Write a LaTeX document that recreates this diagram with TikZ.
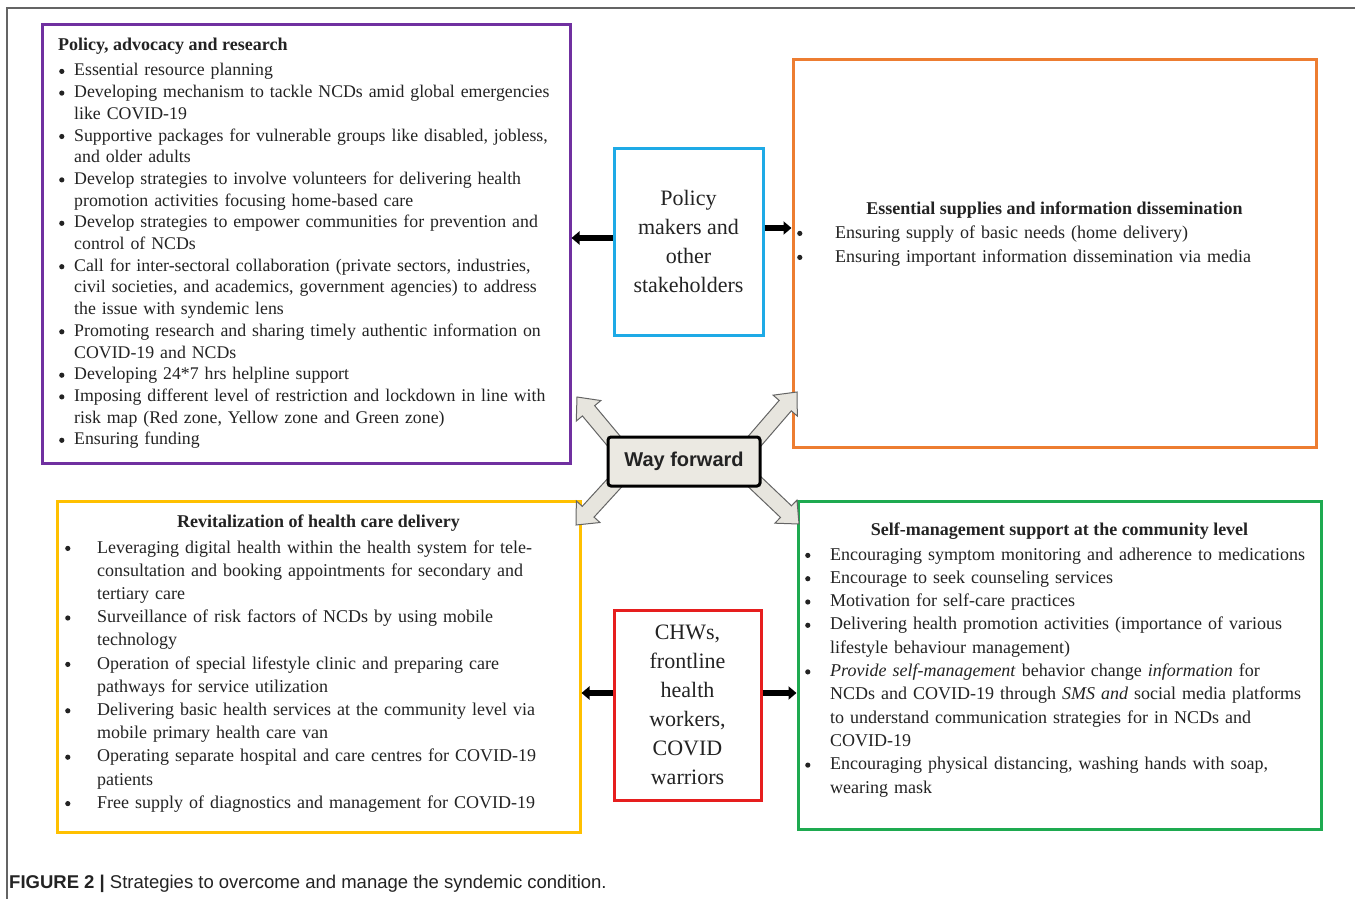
\documentclass[tikz,border=0pt]{standalone}
\usepackage{fontspec}
\setmainfont{Liberation Serif}
\newfontfamily\capfont{Liberation Sans}
\usetikzlibrary{calc,arrows.meta}
\definecolor{cpurple}{RGB}{112,48,160}
\definecolor{cblue}{RGB}{30,170,230}
\definecolor{corange}{RGB}{237,125,49}
\definecolor{cyellow}{RGB}{255,192,0}
\definecolor{cred}{RGB}{230,30,30}
\definecolor{cgreen}{RGB}{30,170,80}
\definecolor{ctext}{RGB}{35,35,35}
\definecolor{wffill}{RGB}{235,233,226}
\definecolor{fatfill}{RGB}{231,229,222}
\definecolor{framegray}{RGB}{100,100,100}
\newcommand\bdot{\raisebox{2pt}{\tikz\fill[ctext] (0,0) circle (2.6pt);}}
\newcommand\bfirst[2]{\noindent\hangindent=#2\hangafter=1\makebox[#2][l]{\hspace{#1}\bdot}}
\newcommand\bitem[2]{\par\bfirst{#1}{#2}}
\newcommand\nl{\newline}
\newcommand\fatarrow[2]{%
  \path ($(#2)!18pt!(#1)$) coordinate (fah);
  \draw[fat] ($(#1)!8pt!90:(#2)$) -- ($(fah)!8pt!-90:(#1)$) -- ($(fah)!16pt!-90:(#1)$) -- (#2)
    -- ($(fah)!16pt!90:(#1)$) -- ($(fah)!8pt!90:(#1)$) -- ($(#1)!8pt!-90:(#2)$) -- cycle;}
\begin{document}
\begin{tikzpicture}[x=1pt,y=-1pt,
  box/.style={draw, line width=3pt, inner sep=0pt, fill=white},
  body/.style={inner sep=0pt, text=ctext, align=left},
  ttl/.style={inner sep=0pt, text=ctext, font=\fontsize{18}{21.7}\selectfont\bfseries},
  actor/.style={box, align=center, text=ctext, font=\fontsize{22}{29}\selectfont},
  blk/.style={line width=5.5pt, -{Triangle[width=13pt,length=8pt]}},
  fat/.style={draw=framegray, line width=1pt, fill=fatfill, line join=miter}
]
\useasboundingbox (0,0) rectangle (1355,899);
\draw[framegray, line width=1.3pt] (7,899) -- (7,8) -- (1355,8);

% frames
\node[box, draw=cpurple, minimum width=528, minimum height=438] (pol) at (306,244) {};
\node[box, draw=corange, minimum width=523, minimum height=387] (ess) at (1054.5,253.5) {};
\node[box, draw=cyellow, minimum width=523, minimum height=331] (rev) at (318.5,666.5) {};
\node[box, draw=cgreen, minimum width=523, minimum height=328] (self) at (1059.5,665) {};

\node[actor, draw=cblue, minimum width=149, minimum height=187] (pm) at (688.5,241.5) {Policy\\makers and\\other\\stakeholders};
\node[actor, draw=cred, minimum width=147, minimum height=190] (chw) at (687.5,705) {CHWs,\\frontline\\health\\workers,\\COVID\\warriors};

% purple content
\node[ttl, anchor=base west] (polt) at (58,51) {Policy, advocacy and research};
\node[body, anchor=base west, text width=505, font=\fontsize{17.8}{21.7}\selectfont] (poll) at (58,76) {%
\bfirst{1pt}{16pt}Essential resource planning
\bitem{1pt}{16pt}Developing mechanism to tackle NCDs amid global emergencies\nl like COVID-19
\bitem{1pt}{16pt}Supportive packages for vulnerable groups like disabled, jobless,\nl and older adults
\bitem{1pt}{16pt}Develop strategies to involve volunteers for delivering health\nl promotion activities focusing home-based care
\bitem{1pt}{16pt}Develop strategies to empower communities for prevention and\nl control of NCDs
\bitem{1pt}{16pt}Call for inter-sectoral collaboration (private sectors, industries,\nl civil societies, and academics, government agencies) to address\nl the issue with syndemic lens
\bitem{1pt}{16pt}Promoting research and sharing timely authentic information on\nl COVID-19 and NCDs
\bitem{1pt}{16pt}Developing 24*7 hrs helpline support
\bitem{1pt}{16pt}Imposing different level of restriction and lockdown in line with\nl risk map (Red zone, Yellow zone and Green zone)
\bitem{1pt}{16pt}Ensuring funding\par}; 

% orange content
\node[ttl, anchor=base] (esst) at (1054.5,214) {Essential supplies and information dissemination};
\node[body, anchor=base west, text width=505, font=\fontsize{18}{24}\selectfont] (essl) at (797,238) {%
\bfirst{0pt}{38pt}Ensuring supply of basic needs (home delivery)
\bitem{0pt}{38pt}Ensuring important information dissemination via media\par};

% yellow content
\node[ttl, anchor=base] (revt) at (318.5,527) {Revitalization of health care delivery};
\node[body, anchor=base west, text width=505, font=\fontsize{18}{23.2}\selectfont] (revl) at (64,553) {%
\bfirst{1pt}{33pt}Leveraging digital health within the health system for tele-\nl consultation and booking appointments for secondary and\nl tertiary care
\bitem{1pt}{33pt}Surveillance of risk factors of NCDs by using mobile\nl technology
\bitem{1pt}{33pt}Operation of special lifestyle clinic and preparing care\nl pathways for service utilization
\bitem{1pt}{33pt}Delivering basic health services at the community level via\nl mobile primary health care van
\bitem{1pt}{33pt}Operating separate hospital and care centres for COVID-19\nl patients
\bitem{1pt}{33pt}Free supply of diagnostics and management for COVID-19\par};

% green content
\node[ttl, anchor=base] (selft) at (1059.5,535) {Self-management support at the community level};
\node[body, anchor=base west, text width=510, font=\fontsize{18}{23.3}\selectfont] (selfl) at (804,560) {%
\bfirst{1pt}{26pt}Encouraging symptom monitoring and adherence to medications
\bitem{1pt}{26pt}Encourage to seek counseling services
\bitem{1pt}{26pt}Motivation for self-care practices
\bitem{1pt}{26pt}Delivering health promotion activities (importance of various\nl lifestyle behaviour management)
\bitem{1pt}{26pt}\textit{Provide self-management} behavior change \textit{information} for\nl NCDs and COVID-19 through \textit{SMS and} social media platforms\nl to understand communication strategies for in NCDs and\nl COVID-19
\bitem{1pt}{26pt}Encouraging physical distancing, washing hands with soap,\nl wearing mask\par};

% black arrows
\draw[blk] ([yshift=3.5pt]pm.west) -- ([yshift=3.5pt]pm.west -| pol.east);
\draw[blk] ([yshift=13.5pt]pm.east) -- ([yshift=13.5pt]pm.east -| ess.west);
\draw[blk] ([yshift=12pt]chw.west) -- ([yshift=12pt]chw.west -| rev.east);
\draw[blk] ([yshift=12pt]chw.east) -- ([yshift=12pt]chw.east -| self.west);

% fat arrows from way forward
\coordinate (ul0) at (628,458); \coordinate (ul1) at (577,397);
\coordinate (ur0) at (740,458); \coordinate (ur1) at (797,392);
\coordinate (ll0) at (630,466); \coordinate (ll1) at (576,525);
\coordinate (lr0) at (738,466); \coordinate (lr1) at (799,524);
\fatarrow{ul0}{ul1}
\fatarrow{ur0}{ur1}
\fatarrow{ll0}{ll1}
\fatarrow{lr0}{lr1}
\node[draw=black, line width=3pt, fill=wffill, rounded corners=3pt, minimum width=152, minimum height=49, inner sep=0pt, font=\capfont\fontsize{20}{24}\selectfont\bfseries, text=ctext] (wf) at (684,461.5) {Way forward};

% caption
\node[anchor=base west, inner sep=0pt, font=\capfont\fontsize{18.5}{22}\selectfont, text=ctext] (cap) at (9,888) {\textbf{FIGURE 2 |} Strategies to overcome and manage the syndemic condition.};
\end{tikzpicture}
\end{document}
